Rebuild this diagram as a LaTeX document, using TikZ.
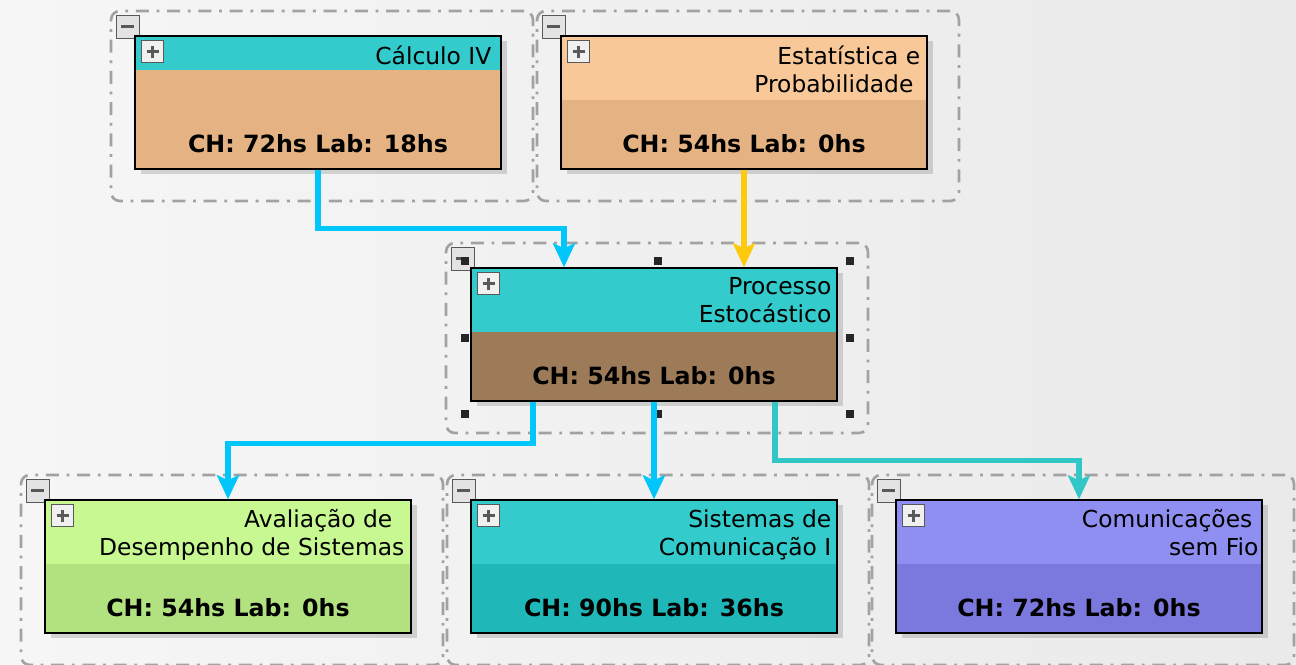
\documentclass[tikz,border=0pt]{standalone}
\usepackage{fontspec}
\setmainfont{DejaVu Sans}
\usetikzlibrary{arrows.meta,shadows}

\definecolor{bgleft}{HTML}{F6F6F6}
\definecolor{bgright}{HTML}{EAEAEA}
\definecolor{groupline}{HTML}{A2A2A2}
\definecolor{hdrteal}{HTML}{33CBCB}
\definecolor{calcbody}{HTML}{E5B383}
\definecolor{stathdr}{HTML}{F9C898}
\definecolor{procbody}{HTML}{9E7B58}
\definecolor{avalhdr}{HTML}{C8F891}
\definecolor{avalbody}{HTML}{B1E27F}
\definecolor{sistbody}{HTML}{1FB7B8}
\definecolor{commhdr}{HTML}{8F8FF2}
\definecolor{commbody}{HTML}{7B79DE}
\definecolor{flowcyan}{HTML}{00C6F9}
\definecolor{flowgold}{HTML}{FFC90E}
\definecolor{flowteal}{HTML}{33C6C6}

\begin{document}
\begin{tikzpicture}[
    x=0.02cm, y=-0.02cm,
    font=\fontsize{13.3}{16}\selectfont,
    group/.style={draw=groupline, line width=1.5pt,
                  dash pattern=on 7.4pt off 4.4pt on 1.6pt off 4.4pt,
                  rounded corners=5pt, minimum width=8.44cm,
                  minimum height=3.8cm, inner sep=0pt},
    course/.style={draw=black, line width=0.8pt, minimum width=7.32cm,
                   minimum height=2.66cm, inner sep=0pt,
                   drop shadow={shadow xshift=0.12cm, shadow yshift=-0.1cm,
                                fill=black, opacity=0.14}},
    hdr/.style 2 args={path picture={
        \fill[#1] (path picture bounding box.north west)
            rectangle ([yshift=-#2]path picture bounding box.north east);}},
    minusbtn/.style={draw=gray!70!black, fill=gray!22, minimum size=0.46cm,
                     inner sep=0pt, anchor=north west, path picture={
        \draw[line width=1.5pt] ([xshift=-0.13cm]path picture bounding box.center)
            -- ([xshift=0.13cm]path picture bounding box.center);}},
    plusbtn/.style={draw=gray!70!black, fill=gray!12, minimum size=0.44cm,
                    inner sep=0pt, anchor=north west, path picture={
        \draw[line width=1.5pt] ([xshift=-0.12cm]path picture bounding box.center)
            -- ([xshift=0.12cm]path picture bounding box.center);
        \draw[line width=1.5pt] ([yshift=-0.12cm]path picture bounding box.center)
            -- ([yshift=0.12cm]path picture bounding box.center);}},
    title/.style={anchor=north east, align=right, inner sep=0pt},
    hours/.style={anchor=base, inner sep=0pt,
                  font=\fontsize{13.5}{15}\selectfont\bfseries},
    flow/.style={line width=0.11cm,
                 -{Stealth[length=0.48cm, width=0.44cm, inset=0.1cm]}}
]
    \shade[use as bounding box, left color=bgleft, right color=bgright]
        (0,0) rectangle (1296,665);
    \clip (0,0) rectangle (1296,665);

    % dash-dot frames round each course
    \node[group] (calc-g) at (322,106) {};
    \node[group] (stat-g) at (748,106) {};
    \node[group] (proc-g) at (657,338) {};
    \node[group] (aval-g) at (232,570) {};
    \node[group] (sist-g) at (658,570) {};
    \node[group] (comm-g) at (1083,570) {};

    \foreach \g in {calc-g,stat-g,proc-g,aval-g,sist-g,comm-g}
        \node[minusbtn] (\g-m) at ([shift={(6,5)}]\g.north west) {};

    % course boxes
    \node[course, fill=calcbody, hdr={hdrteal}{0.68cm}] (calc)
        at ([shift={(-4,-3.5)}]calc-g.center) {};
    \node[course, fill=calcbody, hdr={stathdr}{1.28cm}] (stat)
        at ([shift={(-4,-3.5)}]stat-g.center) {};
    \node[course, fill=procbody, hdr={hdrteal}{1.28cm}] (proc)
        at ([shift={(-3,-3.5)}]proc-g.center) {};
    \node[course, fill=avalbody, hdr={avalhdr}{1.28cm}] (aval)
        at ([shift={(-4,-3.5)}]aval-g.center) {};
    \node[course, fill=sistbody, hdr={hdrteal}{1.28cm}] (sist)
        at ([shift={(-4,-3.5)}]sist-g.center) {};
    \node[course, fill=commbody, hdr={commhdr}{1.28cm}] (comm)
        at ([shift={(-4,-3.5)}]comm-g.center) {};

    \foreach \c in {calc,stat,proc,aval,sist,comm}
        \node[plusbtn] (\c-p) at ([shift={(7,5)}]\c.north west) {};

    % selection handles
    \foreach \hx/\hy in {465/261,658/261,850/261,465/338,850/338,465/414,658/414,850/414}
        \fill[black!85] (\hx-4,\hy-4) rectangle +(8,8);

    \node[title] (calc-t) at ([shift={(-10,10)}]calc.north east) {Cálculo IV};
    \node[title] (stat-t) at ([shift={(-7,10)}]stat.north east)
        {Estatística e\\Probabilidade\hspace*{0.14cm}};
    \node[title] (proc-t) at ([shift={(-6,10)}]proc.north east)
        {Processo\\Estocástico};
    \node[title] (aval-t) at ([shift={(-7,10)}]aval.north east)
        {Avaliação de\hspace*{0.24cm}\\Desempenho de Sistemas};
    \node[title] (sist-t) at ([shift={(-6,10)}]sist.north east)
        {Sistemas de\\Comunicação I};
    \node[title] (comm-t) at ([shift={(-4,10)}]comm.north east)
        {Comunicações\hspace*{0.12cm}\\sem Fio};

    \node[hours] (calc-h) at ([shift={(0,-17)}]calc.south) {CH: 72hs Lab: 18hs};
    \node[hours] (stat-h) at ([shift={(0,-17)}]stat.south) {CH: 54hs Lab: 0hs};
    \node[hours] (proc-h) at ([shift={(0,-17)}]proc.south) {CH: 54hs Lab: 0hs};
    \node[hours] (aval-h) at ([shift={(0,-17)}]aval.south) {CH: 54hs Lab: 0hs};
    \node[hours] (sist-h) at ([shift={(0,-17)}]sist.south) {CH: 90hs Lab: 36hs};
    \node[hours] (comm-h) at ([shift={(0,-17)}]comm.south) {CH: 72hs Lab: 0hs};

    % prerequisites
    \draw[flow, flowcyan] (calc.south) -- ++(0,59) -| ([xshift=-1.8cm]proc.north);
    \draw[flow, flowgold] (stat.south) -- (stat.south |- proc.north);
    \draw[flow, flowcyan] ([xshift=-2.42cm]proc.south) -- ++(0,42) -| (aval.north);
    \draw[flow, flowcyan] (proc.south) -- (sist.north);
    \draw[flow, flowteal] ([xshift=2.42cm]proc.south) -- ++(0,59) -| (comm.north);

\end{tikzpicture}
\end{document}
